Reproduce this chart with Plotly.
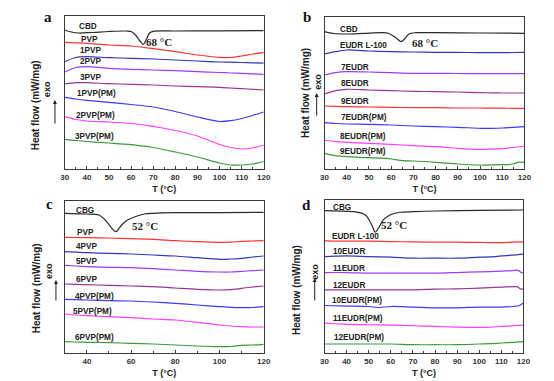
import plotly.graph_objects as go

# ---------------- data (temperature in degC, heat flow in arbitrary offset units) ----------------
T_grid = [30, 35, 40, 50, 60, 70, 80, 90, 100, 105, 110, 115, 120]

# panel a
T_cbd_a = [30, 32, 36, 42, 50, 58, 60, 62, 64, 65.5, 67, 68.3, 70, 80, 100, 120]
cbd_a = [139, 137.5, 136, 136.5, 137.5, 138, 137.5, 134, 128, 124.7, 130, 136, 137.7, 138, 138.2, 138.3]
pvp_a = [126.7, 126.2, 125.7, 124, 123, 120.3, 117.3, 114, 111.7, 111.5, 113, 115, 116.3]
p1pvp = [107.3, 111.5, 112.3, 111.3, 110.7, 110, 109, 108, 107, 106.8, 106.5, 106.2, 105.8]
p2pvp = [97, 101.5, 102.3, 100.7, 99.7, 99, 98.3, 97.3, 96.5, 96, 95.7, 95.2, 94.7]
p3pvp = [85, 86.3, 86.3, 85.3, 84.7, 84, 83, 82.3, 81.7, 81, 80.3, 79.7, 79]
p1pvp_pm = [71.7, 70, 68.7, 66.7, 64.5, 62, 57.5, 52, 47.5, 48.3, 50.5, 53.5, 57]
p2pvp_pm = [52.3, 49.5, 48, 47, 45.5, 42.7, 38.5, 33, 24.5, 21.5, 20, 21, 24]
p3pvp_pm = [29.7, 28.5, 27.5, 26, 24.3, 21.5, 17, 12, 6, 4, 4, 5, 7.5]

# panel b
T_cbd_b = [30, 34, 40, 48, 56, 59, 62, 64.5, 66, 68, 71, 80, 100, 120]
cbd_b = [137.3, 135.5, 135, 135.7, 136.3, 135.5, 131.5, 127.3, 130, 135, 136.3, 136.3, 136, 135.7]
eudr_b = [115, 117.3, 119, 118, 117.3, 117, 116.7, 116.7, 116.3, 116.3, 116.3, 116.5, 116.7]
e7 = [94, 96.3, 97.3, 97, 96.3, 95.7, 95.7, 95.5, 95.3, 95.3, 95.3, 95.3, 95.3]
e8 = [75, 78.3, 79.7, 79, 78.3, 77.7, 77.3, 77, 76.3, 76.2, 76, 76, 76]
e9 = [63, 62.7, 62.3, 62, 61.7, 61.3, 61.3, 61, 61, 60.9, 60.8, 60.7, 60.7]
e7_pm = [46.3, 45.5, 45, 44.7, 44, 43, 42.3, 41.7, 40.7, 40.7, 41, 41.7, 42.3]
e8_pm = [29, 27.3, 26.7, 25.7, 24.7, 23.3, 22.3, 20.7, 19.7, 19.8, 20.3, 21.5, 23]
T_e9_pm = [30, 35, 40, 50, 60, 65, 70, 80, 90, 100, 110, 115, 117, 120]
e9_pm = [15.7, 13.3, 12.3, 11.3, 10, 8.3, 8, 6.7, 5, 4, 4.3, 5, 6.7, 6.7]

# panel c
T_cbg_c = [30, 40, 45.4, 48.3, 51.3, 53.2, 55.7, 57.9, 60.1, 66, 70, 80, 100, 120]
cbg_c = [139.7, 139, 138, 133, 124.7, 121.3, 128, 132.3, 134.7, 139, 139.7, 140.3, 140.3, 140.7]
pvp_c = [115.7, 115.5, 115.3, 115, 114.3, 113.7, 112.3, 111.3, 110.7, 110.8, 111.7, 112, 112.3]
p4pvp = [101.3, 100.8, 100.3, 99.7, 99, 98, 97, 95.3, 93.7, 94, 94.7, 96, 97]
p5pvp = [87.7, 87, 86.3, 85.7, 85.3, 84.3, 83, 81.7, 81, 81, 81.7, 82.3, 83]
p6pvp = [69, 68.7, 68.3, 67.7, 67, 66.3, 65, 63.7, 63, 63.3, 64.7, 66, 67]
p4pvp_pm = [53.7, 53.3, 53, 52.3, 52, 51, 49.7, 48, 46.3, 45.7, 45.3, 45.5, 46.3]
p5pvp_pm = [39, 38, 37.3, 36.3, 35.3, 34, 33, 30.7, 28, 27, 26.3, 26, 26]
p6pvp_pm = [11.3, 11, 10.7, 10.3, 9.7, 9, 8, 7, 6.3, 6.5, 7.7, 8, 8.7]

# panel d
T_cbg_d = [30, 40, 43.3, 48.5, 51.4, 52.9, 54.4, 56.6, 59.6, 64, 70, 80, 100, 120]
cbg_d = [142.6, 142, 141.6, 138.3, 128.3, 121, 125, 133.3, 138.3, 141, 141.6, 142.3, 143, 143.3]
eudr_d = [112.3, 112.1, 112, 112, 111.6, 111.3, 111, 111, 110.8, 110.6, 110.6, 111, 111.3]
e10 = [96.6, 97, 97.3, 96.6, 96, 95, 95, 95, 96, 96.3, 97.3, 98, 99]
T_e11 = [30, 40, 50, 60, 70, 80, 90, 100, 110, 115, 117, 118, 119, 120]
e11 = [80.6, 80.6, 80, 80, 80, 80, 80.6, 81.3, 82, 82.6, 83, 82.3, 80.6, 80]
T_e12 = [30, 40, 50, 60, 70, 80, 90, 100, 110, 116, 117.5, 118.5, 120]
e12 = [63.3, 63.3, 63.3, 63.3, 63.3, 64, 64.3, 65, 66, 66.6, 66.3, 64.3, 64]
T_e10_pm = [30, 40, 50, 55, 60, 70, 80, 90, 100, 110, 115, 118, 120]
e10_pm = [47.6, 47, 46.6, 45.6, 46.6, 46, 45.3, 45.3, 46, 46, 46.6, 47.3, 50]
e11_pm = [30, 29.3, 28.6, 28.3, 28, 27.3, 26.6, 26, 25.6, 25.8, 26.6, 27.3, 28]
e12_pm = [9, 9, 9, 9, 9, 8.3, 8.3, 8.3, 9, 9.3, 10, 10.6, 11.3]

# ---------------- styling ----------------
BLACK = "#2a2a2a"
RED = "#ff3333"
NAVY = "#3636b8"
VIOLET = "#9c3cf5"
PURPLE = "#993399"
BLUE = "#3a3aff"
MAGENTA = "#ff3cff"
GREEN = "#3a9a3a"

W, H = 554, 381

panels = {
    "a": dict(xa="x", ya="y", box=(62, 265, 16, 169), top=153),
    "b": dict(xa="x2", ya="y2", box=(327, 531, 17, 169), top=152),
    "c": dict(xa="x3", ya="y3", box=(62, 265, 201, 353), top=152),
    "d": dict(xa="x4", ya="y4", box=(327, 530, 200, 353), top=153.3),
}

series = {
    "a": [(T_cbd_a, cbd_a, BLACK), (T_grid, pvp_a, RED), (T_grid, p1pvp, NAVY), (T_grid, p2pvp, VIOLET),
          (T_grid, p3pvp, PURPLE), (T_grid, p1pvp_pm, BLUE), (T_grid, p2pvp_pm, MAGENTA), (T_grid, p3pvp_pm, GREEN)],
    "b": [(T_cbd_b, cbd_b, BLACK), (T_grid, eudr_b, NAVY), (T_grid, e7, VIOLET), (T_grid, e8, PURPLE),
          (T_grid, e9, RED), (T_grid, e7_pm, BLUE), (T_grid, e8_pm, MAGENTA), (T_e9_pm, e9_pm, GREEN)],
    "c": [(T_cbg_c, cbg_c, BLACK), (T_grid, pvp_c, RED), (T_grid, p4pvp, NAVY), (T_grid, p5pvp, VIOLET),
          (T_grid, p6pvp, PURPLE), (T_grid, p4pvp_pm, BLUE), (T_grid, p5pvp_pm, MAGENTA), (T_grid, p6pvp_pm, GREEN)],
    "d": [(T_cbg_d, cbg_d, BLACK), (T_grid, eudr_d, RED), (T_grid, e10, NAVY), (T_e11, e11, VIOLET),
          (T_e12, e12, PURPLE), (T_e10_pm, e10_pm, BLUE), (T_grid, e11_pm, MAGENTA), (T_grid, e12_pm, GREEN)],
}

fig = go.Figure()
for key, lst in series.items():
    p = panels[key]
    for xs, ys, col in lst:
        fig.add_trace(go.Scatter(x=xs, y=ys, mode="lines", xaxis=p["xa"], yaxis=p["ya"],
                                 line=dict(color=col, width=1.2, shape="spline", smoothing=0.8),
                                 showlegend=False, hoverinfo="skip"))

layout = dict(width=W, height=H, margin=dict(l=0, r=0, t=0, b=0),
              paper_bgcolor="white", plot_bgcolor="white", showlegend=False)

AX_COL = "#3a3a3a"
for i, key in enumerate(["a", "b", "c", "d"]):
    p = panels[key]
    x0, x1, y0, y1 = p["box"]
    sfx = "" if i == 0 else str(i + 1)
    dtick = 20 if key == "c" else 10
    layout["xaxis" + sfx] = dict(
        domain=[x0 / W, x1 / W], range=[30, 120], anchor="y" + sfx,
        showline=True, mirror=True, linecolor=AX_COL, linewidth=1.3,
        showgrid=False, zeroline=False,
        ticks="inside", ticklen=3, tickwidth=1, tickcolor=AX_COL,
        tick0=0, dtick=dtick,
        minor=dict(ticks="inside", ticklen=2, dtick=dtick / 2, tickcolor=AX_COL, showgrid=False),
        tickfont=dict(family="Liberation Sans, Arial", size=8, color="#333333", weight="bold"),
        title=dict(text="T (°C)", standoff=4,
                   font=dict(family="Liberation Sans, Arial", size=9, color="#222222", weight="bold")),
    )
    layout["yaxis" + sfx] = dict(
        domain=[1 - y1 / H, 1 - y0 / H], range=[0, p["top"]], anchor="x" + sfx,
        showline=True, mirror=True, linecolor=AX_COL, linewidth=1.3,
        showgrid=False, zeroline=False, showticklabels=False, ticks="",
    )

LBL = dict(family="Liberation Sans, Arial", size=8.2, color="#222222", weight="bold")
SERIF = dict(family="Liberation Serif, Times New Roman", size=11, color="#222222", weight="bold")
LETTER = dict(family="Liberation Serif, Times New Roman", size=15, color="#111111", weight="bold")

labels = [
    ("CBD", 74, 26), ("PVP", 77, 39), ("1PVP", 76, 50), ("2PVP", 75, 62), ("3PVP", 75, 77),
    ("1PVP(PM)", 72, 94), ("2PVP(PM)", 71, 115), ("3PVP(PM)", 70, 137),
    ("CBD", 341, 29), ("EUDR L-100", 341, 46), ("7EUDR", 342, 67), ("8EUDR", 342, 83), ("9EUDR", 342, 101),
    ("7EUDR(PM)", 342, 117), ("8EUDR(PM)", 341, 137), ("9EUDR(PM)", 341, 151),
    ("CBG", 71, 210), ("PVP", 72, 232), ("4PVP", 71, 246), ("5PVP", 71, 261), ("6PVP", 71, 279),
    ("4PVP(PM)", 70, 296), ("5PVP(PM)", 68, 311), ("6PVP(PM)", 70, 337),
    ("CBG", 334, 207), ("EUDR L-100", 333, 236), ("10EUDR", 334, 251), ("11EUDR", 334, 268), ("12EUDR", 334, 285),
    ("10EUDR(PM)", 333, 300), ("11EUDR(PM)", 334, 318), ("12EUDR(PM)", 335, 337),
]
ann = []
for txt, px, py in labels:
    ann.append(dict(text=txt, x=px / W, y=1 - py / H, xref="paper", yref="paper",
                    xanchor="left", yanchor="middle", showarrow=False, font=LBL))

for txt, px, py in [("68 °C", 143, 42), ("68 °C", 414, 43), ("52 °C", 129, 226), ("52 °C", 383, 225)]:
    ann.append(dict(text=txt, x=px / W, y=1 - py / H, xref="paper", yref="paper",
                    xanchor="left", yanchor="middle", showarrow=False, font=SERIF))

for txt, px, py in [("a", 45, 17), ("b", 309, 17), ("c", 46, 204), ("d", 309, 205)]:
    ann.append(dict(text=txt, x=px / W, y=1 - py / H, xref="paper", yref="paper",
                    xanchor="center", yanchor="middle", showarrow=False, font=LETTER))

TITLE = dict(family="Liberation Sans, Arial", size=10, color="#222222", weight="bold")
EXO = dict(family="Liberation Sans, Arial", size=9, color="#222222", weight="bold")
# (title x, title y, exo x, exo y, arrow x, arrow head y, arrow tail y)
ytitles = [(33, 105, 44, 89, 52, 100, 125), (307, 93, 320, 82, 319, 93, 117),
           (33, 288, 46, 271, 53, 280, 302), (298, 290, 317, 272, 317, 278, 302)]
for tx, ty, ex, ey, axp, ah, at in ytitles:
    ann.append(dict(text="Heat flow (mW/mg)", x=tx / W, y=1 - ty / H, xref="paper", yref="paper",
                    textangle=-90, showarrow=False, font=TITLE, xanchor="center", yanchor="middle"))
    ann.append(dict(text="exo", x=ex / W, y=1 - ey / H, xref="paper", yref="paper",
                    textangle=-90, showarrow=False, font=EXO, xanchor="center", yanchor="middle"))
    ann.append(dict(text="", x=axp / W, y=1 - ah / H, xref="paper", yref="paper",
                    showarrow=True, ax=0, ay=at - ah, arrowhead=2, arrowsize=0.8,
                    arrowwidth=1, arrowcolor="#222222"))

layout["annotations"] = ann
fig.update_layout(**layout)
fig.write_html("out.html", config={"displayModeBar": False},
               post_script="document.body.style.margin='0px';document.body.style.overflow='hidden';")
